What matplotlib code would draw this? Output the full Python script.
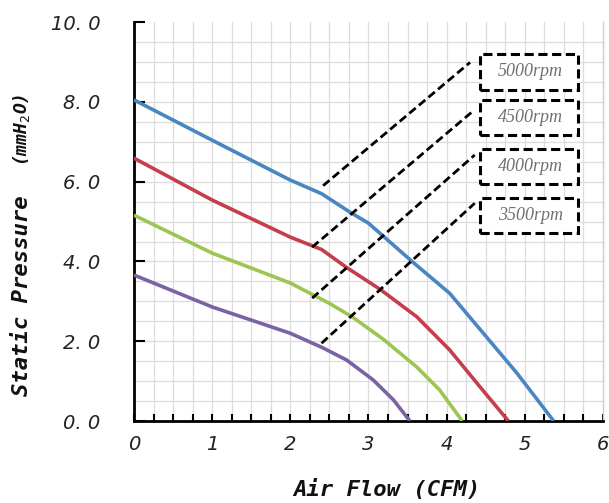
import matplotlib
matplotlib.use("Agg")
import matplotlib.pyplot as plt
import numpy as np
from matplotlib.patches import Rectangle

# Data
x_5000 = [0, 1, 2, 2.4, 2.76, 3.0, 3.57, 4.04, 4.47, 4.9, 5.37]
y_5000 = [8.05, 7.04, 6.04, 5.7, 5.24, 4.96, 3.98, 3.2, 2.2, 1.2, 0.0]
x_4500 = [0, 1, 2, 2.4, 2.72, 3.15, 3.62, 4.04, 4.43, 4.79]
y_4500 = [6.59, 5.54, 4.61, 4.3, 3.85, 3.3, 2.61, 1.78, 0.85, 0.0]
x_4000 = [0, 1, 2, 2.5, 2.8, 3.19, 3.62, 3.91, 4.2]
y_4000 = [5.16, 4.21, 3.46, 2.95, 2.6, 2.05, 1.35, 0.78, 0.0]
x_3500 = [0, 1, 2, 2.4, 2.72, 3.06, 3.32, 3.53]
y_3500 = [3.66, 2.86, 2.2, 1.85, 1.53, 1.03, 0.53, 0.0]
series_labels = ["5000rpm", "4500rpm", "4000rpm", "3500rpm"]
colors = ["#4a86c2", "#c43e4c", "#9cc552", "#7b62a3"]

leader_start = [(2.42, 5.9), (2.28, 4.36), (2.28, 3.08), (2.40, 1.95)]
leader_end = [(4.30, 8.99), (4.32, 7.74), (4.36, 6.67), (4.36, 5.46)]
box_centers_y = [8.75, 7.6, 6.38, 5.15]

fig = plt.figure(figsize=(6.09, 5.03), dpi=100)
ax = fig.add_axes([0.220, 0.163, 0.770, 0.793])
ax.set_xlim(0, 6)
ax.set_ylim(0, 10)

# grid
for gx in np.arange(0.25, 6.0, 0.25):
    ax.axvline(gx, color="#dcdcdc", lw=0.9, zorder=0)
for gy in np.arange(0.5, 10.0, 0.5):
    ax.axhline(gy, color="#dcdcdc", lw=0.9, zorder=0)

for xs, ys, c in zip([x_5000, x_4500, x_4000, x_3500],
                     [y_5000, y_4500, y_4000, y_3500], colors):
    ax.plot(xs, ys, color=c, lw=2.6, zorder=3, solid_joinstyle="round",
            solid_capstyle="butt")

for (x0, y0), (x1, y1) in zip(leader_start, leader_end):
    ax.plot([x0, x1], [y0, y1], color="black", lw=2.0, ls=(0, (3, 1.5)), zorder=4)

bw, bh = 1.25, 0.88
for lab, cy in zip(series_labels, box_centers_y):
    r = Rectangle((5.05 - bw / 2, cy - bh / 2), bw, bh, fill=True, facecolor="white",
                  edgecolor="black", lw=2.2, ls=(0, (3, 1.5)), zorder=5)
    ax.add_patch(r)
    ax.text(5.07, cy, lab, ha="center", va="center", fontsize=13, color="#707070",
            family="Liberation Serif", style="italic", zorder=6)

ax.spines["top"].set_visible(False)
ax.spines["right"].set_color("#cccccc")
ax.spines["right"].set_linewidth(1.0)
ax.spines["left"].set_linewidth(2.0)
ax.spines["bottom"].set_linewidth(2.0)

ax.set_xticks(np.arange(0, 6.01, 0.25), minor=True)
ax.set_xticks(range(0, 7))
ax.set_xticklabels([str(i) for i in range(0, 7)], fontsize=14, style="italic", color="#222222")
ax.tick_params(axis="x", which="both", direction="in", length=5, width=1.5, pad=10)
yt = [0, 2, 4, 6, 8, 10]
ax.set_yticks(yt)
ax.set_yticklabels(["0. 0", "2. 0", "4. 0", "6. 0", "8. 0", "10. 0"], fontsize=14,
                   style="italic", color="#222222")
ax.tick_params(axis="y", direction="in", length=8, width=1.5, pad=24)

fig.text(0.635, 0.026, "Air Flow (CFM)", ha="center", va="center", fontsize=16,
         family="DejaVu Sans Mono", weight="bold", style="italic", color="#111111")
fig.text(0.036, 0.412, "Static Pressure", ha="center", va="center", rotation=90,
         fontsize=16, family="DejaVu Sans Mono", weight="bold", style="italic", color="#111111")
fig.text(0.036, 0.742, "(mmH$_2$O)", ha="center", va="center", rotation=90,
         fontsize=13, family="DejaVu Sans Mono", weight="bold", style="italic", color="#111111")

fig.savefig("out.png", dpi=100)
